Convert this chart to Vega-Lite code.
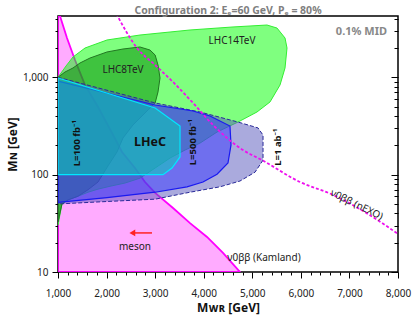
{
  "$schema": "https://vega.github.io/schema/vega-lite/v6.json",
  "width": 340,
  "height": 256,
  "autosize": {"type": "none"},
  "padding": {"left": 58, "top": 16, "right": 17, "bottom": 46},
  "title": {"text": "Configuration 2: Eₑ=60 GeV, Pₑ = 80%", "fontSize": 10.5, "fontWeight": "bold", "color": "#808080", "offset": -3, "anchor": "middle", "font": "Noto Sans"},
  "datasets": {
    "poly": [
      {"s": "kam", "i": 0, "x": 1000, "y": 10},
      {"s": "kam", "i": 1, "x": 1000, "y": 4263},
      {"s": "kam", "i": 2, "x": 1041, "y": 4263},
      {"s": "kam", "i": 3, "x": 1185, "y": 2535},
      {"s": "kam", "i": 4, "x": 1350, "y": 1507},
      {"s": "kam", "i": 5, "x": 1556, "y": 834},
      {"s": "kam", "i": 6, "x": 1824, "y": 495},
      {"s": "kam", "i": 7, "x": 2112, "y": 268},
      {"s": "kam", "i": 8, "x": 2318, "y": 171},
      {"s": "kam", "i": 9, "x": 2585, "y": 117},
      {"s": "kam", "i": 10, "x": 2791, "y": 84},
      {"s": "kam", "i": 11, "x": 3000, "y": 65},
      {"s": "kam", "i": 12, "x": 3368, "y": 45.4},
      {"s": "kam", "i": 13, "x": 3718, "y": 31.8},
      {"s": "kam", "i": 14, "x": 4068, "y": 22.9},
      {"s": "kam", "i": 15, "x": 4397, "y": 15.7},
      {"s": "kam", "i": 16, "x": 4747, "y": 10},

      {"s": "l14", "i": 0, "x": 1000, "y": 1000},
      {"s": "l14", "i": 1, "x": 1165, "y": 1306},
      {"s": "l14", "i": 2, "x": 1309, "y": 1616},
      {"s": "l14", "i": 3, "x": 1556, "y": 1999},
      {"s": "l14", "i": 4, "x": 2009, "y": 2417},
      {"s": "l14", "i": 5, "x": 2688, "y": 2718},
      {"s": "l14", "i": 6, "x": 3718, "y": 3062},
      {"s": "l14", "i": 7, "x": 4603, "y": 3289},
      {"s": "l14", "i": 8, "x": 5303, "y": 3444},
      {"s": "l14", "i": 9, "x": 5509, "y": 3206},
      {"s": "l14", "i": 10, "x": 5674, "y": 2533},
      {"s": "l14", "i": 11, "x": 5715, "y": 1999},
      {"s": "l14", "i": 12, "x": 5674, "y": 1247},
      {"s": "l14", "i": 13, "x": 5571, "y": 834},
      {"s": "l14", "i": 14, "x": 5365, "y": 558},
      {"s": "l14", "i": 15, "x": 5097, "y": 440},
      {"s": "l14", "i": 16, "x": 4706, "y": 347},
      {"s": "l14", "i": 17, "x": 4274, "y": 274},
      {"s": "l14", "i": 18, "x": 3924, "y": 211},
      {"s": "l14", "i": 19, "x": 3615, "y": 179},
      {"s": "l14", "i": 20, "x": 3306, "y": 148},
      {"s": "l14", "i": 21, "x": 3000, "y": 117},
      {"s": "l14", "i": 22, "x": 2688, "y": 92},
      {"s": "l14", "i": 23, "x": 2380, "y": 82},
      {"s": "l14", "i": 24, "x": 2071, "y": 76},
      {"s": "l14", "i": 25, "x": 1824, "y": 71},
      {"s": "l14", "i": 26, "x": 1618, "y": 66},
      {"s": "l14", "i": 27, "x": 1412, "y": 60},
      {"s": "l14", "i": 28, "x": 1206, "y": 55},
      {"s": "l14", "i": 29, "x": 1082, "y": 50},
      {"s": "l14", "i": 30, "x": 1000, "y": 30.4},

      {"s": "l8", "i": 0, "x": 1000, "y": 1000},
      {"s": "l8", "i": 1, "x": 1144, "y": 1133},
      {"s": "l8", "i": 2, "x": 1309, "y": 1247},
      {"s": "l8", "i": 3, "x": 1453, "y": 1403},
      {"s": "l8", "i": 4, "x": 1659, "y": 1578},
      {"s": "l8", "i": 5, "x": 2009, "y": 1820},
      {"s": "l8", "i": 6, "x": 2338, "y": 1953},
      {"s": "l8", "i": 7, "x": 2688, "y": 2048},
      {"s": "l8", "i": 8, "x": 2894, "y": 1906},
      {"s": "l8", "i": 9, "x": 3000, "y": 1693},
      {"s": "l8", "i": 10, "x": 3059, "y": 1337},
      {"s": "l8", "i": 11, "x": 3100, "y": 984},
      {"s": "l8", "i": 12, "x": 3059, "y": 707},
      {"s": "l8", "i": 13, "x": 3000, "y": 545},
      {"s": "l8", "i": 14, "x": 2750, "y": 410},
      {"s": "l8", "i": 15, "x": 2544, "y": 324},
      {"s": "l8", "i": 16, "x": 2338, "y": 238},
      {"s": "l8", "i": 17, "x": 2215, "y": 171},
      {"s": "l8", "i": 18, "x": 2030, "y": 123},
      {"s": "l8", "i": 19, "x": 1824, "y": 84},
      {"s": "l8", "i": 20, "x": 1618, "y": 70},
      {"s": "l8", "i": 21, "x": 1412, "y": 60},
      {"s": "l8", "i": 22, "x": 1206, "y": 55},
      {"s": "l8", "i": 23, "x": 1082, "y": 50},
      {"s": "l8", "i": 24, "x": 1000, "y": 32.6},

      {"s": "ab1", "i": 0, "x": 1000, "y": 1000},
      {"s": "ab1", "i": 1, "x": 3000, "y": 545},
      {"s": "ab1", "i": 2, "x": 3924, "y": 440},
      {"s": "ab1", "i": 3, "x": 4706, "y": 347},
      {"s": "ab1", "i": 4, "x": 5118, "y": 302},
      {"s": "ab1", "i": 5, "x": 5221, "y": 255},
      {"s": "ab1", "i": 6, "x": 5221, "y": 141},
      {"s": "ab1", "i": 7, "x": 5056, "y": 106},
      {"s": "ab1", "i": 8, "x": 4747, "y": 86},
      {"s": "ab1", "i": 9, "x": 4335, "y": 75},
      {"s": "ab1", "i": 10, "x": 3718, "y": 66},
      {"s": "ab1", "i": 11, "x": 3000, "y": 56},
      {"s": "ab1", "i": 12, "x": 2009, "y": 53},
      {"s": "ab1", "i": 13, "x": 1000, "y": 50},

      {"s": "fb500", "i": 0, "x": 1000, "y": 916},
      {"s": "fb500", "i": 1, "x": 3000, "y": 519},
      {"s": "fb500", "i": 2, "x": 3780, "y": 451},
      {"s": "fb500", "i": 3, "x": 4130, "y": 400},
      {"s": "fb500", "i": 4, "x": 4541, "y": 316},
      {"s": "fb500", "i": 5, "x": 4562, "y": 202},
      {"s": "fb500", "i": 6, "x": 4500, "y": 132},
      {"s": "fb500", "i": 7, "x": 4274, "y": 101},
      {"s": "fb500", "i": 8, "x": 3985, "y": 84},
      {"s": "fb500", "i": 9, "x": 3656, "y": 75},
      {"s": "fb500", "i": 10, "x": 3000, "y": 66},
      {"s": "fb500", "i": 11, "x": 2009, "y": 58},
      {"s": "fb500", "i": 12, "x": 1000, "y": 52},

      {"s": "fb100", "i": 0, "x": 1000, "y": 984},
      {"s": "fb100", "i": 1, "x": 3000, "y": 484},
      {"s": "fb100", "i": 2, "x": 3512, "y": 316},
      {"s": "fb100", "i": 3, "x": 3512, "y": 152},
      {"s": "fb100", "i": 4, "x": 3347, "y": 117},
      {"s": "fb100", "i": 5, "x": 3162, "y": 100},
      {"s": "fb100", "i": 6, "x": 1000, "y": 100}
    ],
    "nexo": [
      {"x": 2200, "y": 4500},
      {"x": 2627, "y": 1999},
      {"x": 3000, "y": 1337},
      {"x": 3368, "y": 895},
      {"x": 3780, "y": 545},
      {"x": 4191, "y": 324},
      {"x": 4809, "y": 179},
      {"x": 5200, "y": 141},
      {"x": 5983, "y": 84},
      {"x": 6662, "y": 62},
      {"x": 7362, "y": 40},
      {"x": 8000, "y": 24.6}
    ],
    "plain": [
      {"t": "LHC8TeV", "x": 2338, "y": 1189},
      {"t": "LHC14TeV", "x": 4583, "y": 2360},
      {"t": "meson", "x": 2585, "y": 18.1},
      {"t": "ν0ββ (Kamland)", "x": 5241, "y": 13.9}
    ],
    "lumi": [
      {"t": "L=100 fb⁻¹", "x": 1391, "y": 211},
      {"t": "L=500 fb⁻¹", "x": 3780, "y": 216},
      {"t": "L=1 ab⁻¹", "x": 5530, "y": 192}
    ],
    "arrow": [
      {"x": 2935, "x2": 2560, "y": 25.2, "tip": 2530}
    ]
  },
  "layer": [
    {
      "data": {"name": "poly"},
      "transform": [{"filter": "datum.s === 'kam'"}],
      "mark": {"type": "line", "interpolate": "linear-closed", "fill": "#ff00ff", "fillOpacity": 0.33, "stroke": "#ff00ff", "strokeWidth": 1.8, "clip": true},
      "encoding": {
        "x": {"field": "x", "type": "quantitative", "scale": {"domain": [1000, 8000], "nice": false, "zero": false},
          "axis": {"values": [1000,1200,1400,1600,1800,2000,2200,2400,2600,2800,3000,3200,3400,3600,3800,4000,4200,4400,4600,4800,5000,5200,5400,5600,5800,6000,6200,6400,6600,6800,7000,7200,7400,7600,7800,8000],
            "labelExpr": "datum.value % 1000 === 0 ? format(datum.value, ',') : ''",
            "tickSize": {"condition": {"test": "datum.value % 1000 === 0", "value": 6}, "value": 3},
            "labelPadding": 10, "labelFontSize": 10, "title": "Mᴡʀ [GeV]", "titleFontSize": 12, "titleFontWeight": "bold", "titlePadding": 4, "labelFlush": false, "labelOverlap": false}},
        "y": {"field": "y", "type": "quantitative", "scale": {"type": "log", "domain": [10, 4263], "nice": false},
          "axis": {"values": [10,20,30,40,50,60,70,80,90,100,200,300,400,500,600,700,800,900,1000,2000,3000,4000],
            "labelExpr": "indexof([10,100,1000], datum.value) >= 0 ? format(datum.value, ',') : ''",
            "tickSize": {"condition": {"test": "indexof([10,100,1000], datum.value) >= 0", "value": 6}, "value": 3},
            "labelPadding": 4, "labelFontSize": 10, "title": "Mɴ [GeV]", "titleFontSize": 12, "titleFontWeight": "bold", "titlePadding": 3, "labelOverlap": false, "labelFlush": false}},
        "order": {"field": "i", "type": "quantitative"}
      }
    },
    {
      "data": {"name": "poly"},
      "transform": [{"filter": "datum.s === 'l14'"}],
      "mark": {"type": "line", "interpolate": "linear-closed", "fill": "#00ff00", "fillOpacity": 0.5, "stroke": "#33ee33", "strokeWidth": 1, "clip": true},
      "encoding": {
        "x": {"field": "x", "type": "quantitative", "axis": null},
        "y": {"field": "y", "type": "quantitative", "axis": null},
        "order": {"field": "i", "type": "quantitative"}
      }
    },
    {
      "data": {"name": "poly"},
      "transform": [{"filter": "datum.s === 'l8'"}],
      "mark": {"type": "line", "interpolate": "linear-closed", "fill": "#008800", "fillOpacity": 0.5, "stroke": "#227722", "strokeWidth": 1, "clip": true},
      "encoding": {
        "x": {"field": "x", "type": "quantitative", "axis": null},
        "y": {"field": "y", "type": "quantitative", "axis": null},
        "order": {"field": "i", "type": "quantitative"}
      }
    },
    {
      "data": {"name": "poly"},
      "transform": [{"filter": "datum.s === 'ab1'"}],
      "mark": {"type": "line", "interpolate": "linear-closed", "fill": "#5555bb", "fillOpacity": 0.5, "stroke": "#2a2a99", "strokeWidth": 1, "strokeDash": [4, 2], "clip": true},
      "encoding": {
        "x": {"field": "x", "type": "quantitative", "axis": null},
        "y": {"field": "y", "type": "quantitative", "axis": null},
        "order": {"field": "i", "type": "quantitative"}
      }
    },
    {
      "data": {"name": "poly"},
      "transform": [{"filter": "datum.s === 'fb500'"}],
      "mark": {"type": "line", "interpolate": "linear-closed", "fill": "#3333ff", "fillOpacity": 0.5, "stroke": "#1a1af0", "strokeWidth": 1.2, "clip": true},
      "encoding": {
        "x": {"field": "x", "type": "quantitative", "axis": null},
        "y": {"field": "y", "type": "quantitative", "axis": null},
        "order": {"field": "i", "type": "quantitative"}
      }
    },
    {
      "data": {"name": "poly"},
      "transform": [{"filter": "datum.s === 'fb100'"}],
      "mark": {"type": "line", "interpolate": "linear-closed", "fill": "#00d8b4", "fillOpacity": 0.5, "stroke": "#00e8ff", "strokeWidth": 1.2, "clip": true},
      "encoding": {
        "x": {"field": "x", "type": "quantitative", "axis": null},
        "y": {"field": "y", "type": "quantitative", "axis": null},
        "order": {"field": "i", "type": "quantitative"}
      }
    },
    {
      "data": {"name": "nexo"},
      "mark": {"type": "line", "interpolate": "monotone", "stroke": "#ee11ee", "strokeWidth": 1.8, "strokeDash": [3, 2], "clip": true},
      "encoding": {
        "x": {"field": "x", "type": "quantitative", "axis": null},
        "y": {"field": "y", "type": "quantitative",
          "axis": {"orient": "right", "values": [10,20,30,40,50,60,70,80,90,100,200,300,400,500,600,700,800,900,1000,2000,3000,4000],
            "labels": false, "title": null, "domain": false,
            "tickSize": {"condition": {"test": "indexof([10,100,1000], datum.value) >= 0", "value": -7}, "value": -4}}}
      }
    },
    {
      "mark": {"type": "rule", "color": "#e00000", "strokeWidth": 1, "strokeDash": [4, 2]},
      "encoding": {"x": {"datum": 3000, "type": "quantitative", "axis": null}}
    },
    {
      "data": {"name": "plain"},
      "mark": {"type": "text", "fontSize": 10, "color": "#222", "font": "Noto Sans"},
      "encoding": {
        "x": {"field": "x", "type": "quantitative", "axis": null},
        "y": {"field": "y", "type": "quantitative", "axis": null},
        "text": {"field": "t"}
      }
    },
    {
      "data": {"values": [{"t": "LHeC", "x": 2894, "y": 216}]},
      "mark": {"type": "text", "fontSize": 12.5, "fontWeight": "bold", "color": "#111", "font": "Noto Sans"},
      "encoding": {
        "x": {"field": "x", "type": "quantitative", "axis": null},
        "y": {"field": "y", "type": "quantitative", "axis": null},
        "text": {"field": "t"}
      }
    },
    {
      "data": {"name": "lumi"},
      "mark": {"type": "text", "fontSize": 9.5, "fontWeight": "bold", "color": "#111", "angle": 270, "font": "Noto Sans"},
      "encoding": {
        "x": {"field": "x", "type": "quantitative", "axis": null},
        "y": {"field": "y", "type": "quantitative", "axis": null},
        "text": {"field": "t"}
      }
    },
    {
      "data": {"values": [{"t": "ν0ββ (nEXO)", "x": 7150, "y": 49}]},
      "mark": {"type": "text", "fontSize": 10, "color": "#222", "angle": 26, "font": "Noto Sans"},
      "encoding": {
        "x": {"field": "x", "type": "quantitative", "axis": null},
        "y": {"field": "y", "type": "quantitative", "axis": null},
        "text": {"field": "t"}
      }
    },
    {
      "data": {"values": [{"t": "0.1% MID", "x": 7774, "y": 2917}]},
      "mark": {"type": "text", "fontSize": 11, "fontWeight": "bold", "color": "#888", "align": "right", "font": "Noto Sans"},
      "encoding": {
        "x": {"field": "x", "type": "quantitative", "axis": null},
        "y": {"field": "y", "type": "quantitative", "axis": null},
        "text": {"field": "t"}
      }
    },
    {
      "data": {"name": "arrow"},
      "mark": {"type": "rule", "color": "#ff2222", "strokeWidth": 1.5},
      "encoding": {
        "x": {"field": "x", "type": "quantitative", "axis": null},
        "x2": {"field": "x2"},
        "y": {"field": "y", "type": "quantitative", "axis": null}
      }
    },
    {
      "data": {"name": "arrow"},
      "mark": {"type": "point", "shape": "triangle-left", "filled": true, "color": "#ff2222", "size": 45, "opacity": 1},
      "encoding": {
        "x": {"field": "tip", "type": "quantitative", "axis": null},
        "y": {"field": "y", "type": "quantitative", "axis": null}
      }
    }
  ],
  "resolve": {"axis": {"x": "independent", "y": "independent"}},
  "config": {
    "font": "Noto Sans",
    "view": {"stroke": "#000", "strokeWidth": 1.5},
    "axis": {"grid": false, "domain": false, "tickColor": "#000", "tickWidth": 1, "labelColor": "#222", "titleColor": "#111", "labelFont": "Noto Sans", "titleFont": "Noto Sans"}
  }
}
